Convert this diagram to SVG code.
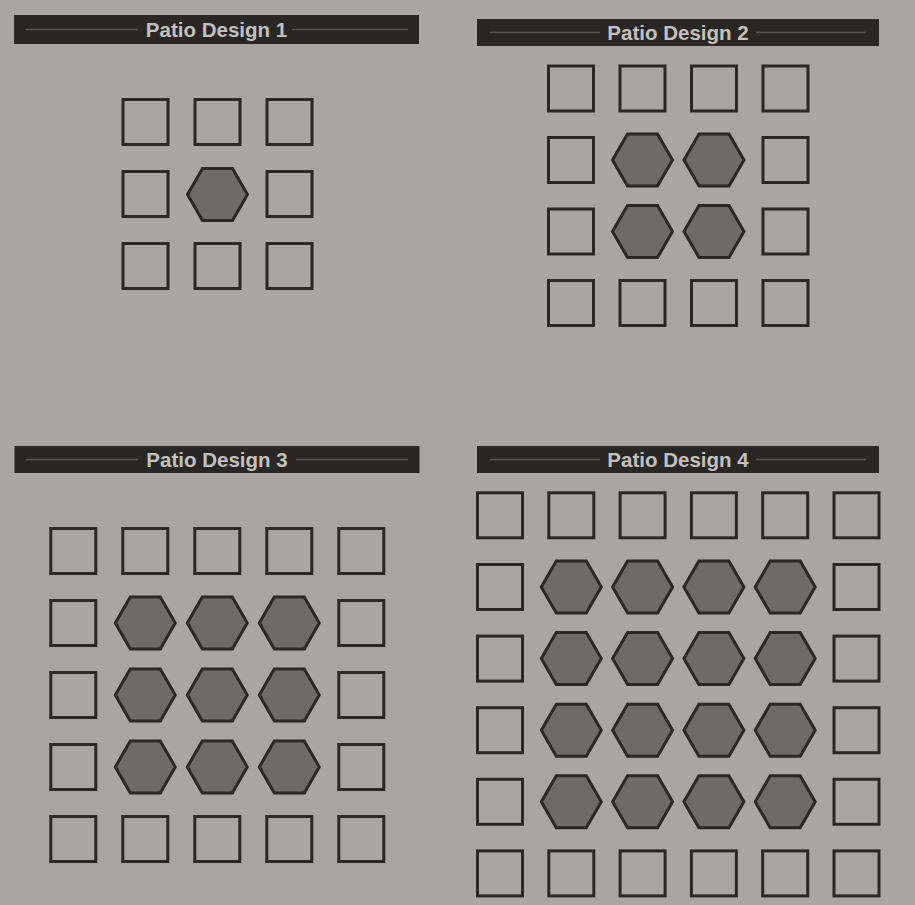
<svg xmlns="http://www.w3.org/2000/svg" xmlns:xlink="http://www.w3.org/1999/xlink" width="915" height="905" viewBox="0 0 915 905">
<style>
.bar{fill:#292725}
.rule{stroke:#57524e;stroke-width:1.5;fill:none}
.title{font-family:"Liberation Sans",Arial,sans-serif;font-weight:bold;font-size:20.5px;fill:#c4c0bc;text-anchor:middle}
.sq{fill:none;stroke:#2b2725;stroke-width:3}
.hx{fill:#6d6a67;stroke:#2b2725;stroke-width:3;stroke-linejoin:miter}
</style>
<defs>
<rect id="sq" class="sq" x="-22.5" y="-22.5" width="45" height="45"/>
<polygon id="hx" class="hx" points="-30,0 -15,-26 15,-26 30,0 15,26 -15,26"/>
</defs>
<rect width="915" height="905" fill="#a9a5a0"/>

<g id="design1">
<rect class="bar" x="14" y="15" width="405" height="29"/>
<line class="rule" x1="26" y1="29.5" x2="138" y2="29.5"/>
<line class="rule" x1="292" y1="29.5" x2="408" y2="29.5"/>
<text class="title" x="216.5" y="37">Patio Design 1</text>
<use href="#sq" transform="translate(145.5,122)"/><use href="#sq" transform="translate(217.5,122)"/><use href="#sq" transform="translate(289.5,122)"/>
<use href="#sq" transform="translate(145.5,194)"/><use href="#hx" transform="translate(217.5,194.5)"/><use href="#sq" transform="translate(289.5,194)"/>
<use href="#sq" transform="translate(145.5,266)"/><use href="#sq" transform="translate(217.5,266)"/><use href="#sq" transform="translate(289.5,266)"/>
</g>

<g id="design2">
<rect class="bar" x="477" y="19" width="402" height="27"/>
<line class="rule" x1="490" y1="32.5" x2="600" y2="32.5"/>
<line class="rule" x1="756" y1="32.5" x2="866" y2="32.5"/>
<text class="title" x="678" y="40">Patio Design 2</text>
<use href="#sq" transform="translate(571,88.5)"/><use href="#sq" transform="translate(642.5,88.5)"/><use href="#sq" transform="translate(714,88.5)"/><use href="#sq" transform="translate(785.5,88.5)"/>
<use href="#sq" transform="translate(571,160)"/><use href="#hx" transform="translate(642.5,160)"/><use href="#hx" transform="translate(714,160)"/><use href="#sq" transform="translate(785.5,160)"/>
<use href="#sq" transform="translate(571,231.5)"/><use href="#hx" transform="translate(642.5,231.5)"/><use href="#hx" transform="translate(714,231.5)"/><use href="#sq" transform="translate(785.5,231.5)"/>
<use href="#sq" transform="translate(571,303)"/><use href="#sq" transform="translate(642.5,303)"/><use href="#sq" transform="translate(714,303)"/><use href="#sq" transform="translate(785.5,303)"/>
</g>

<g id="design3">
<rect class="bar" x="14.5" y="446" width="405" height="27"/>
<line class="rule" x1="26" y1="459.5" x2="138" y2="459.5"/>
<line class="rule" x1="296" y1="459.5" x2="408" y2="459.5"/>
<text class="title" x="217" y="467">Patio Design 3</text>
<use href="#sq" transform="translate(73.3,551)"/><use href="#sq" transform="translate(145.3,551)"/><use href="#sq" transform="translate(217.3,551)"/><use href="#sq" transform="translate(289.3,551)"/><use href="#sq" transform="translate(361.3,551)"/>
<use href="#sq" transform="translate(73.3,623)"/><use href="#hx" transform="translate(145.3,623)"/><use href="#hx" transform="translate(217.3,623)"/><use href="#hx" transform="translate(289.3,623)"/><use href="#sq" transform="translate(361.3,623)"/>
<use href="#sq" transform="translate(73.3,695)"/><use href="#hx" transform="translate(145.3,695)"/><use href="#hx" transform="translate(217.3,695)"/><use href="#hx" transform="translate(289.3,695)"/><use href="#sq" transform="translate(361.3,695)"/>
<use href="#sq" transform="translate(73.3,767)"/><use href="#hx" transform="translate(145.3,767)"/><use href="#hx" transform="translate(217.3,767)"/><use href="#hx" transform="translate(289.3,767)"/><use href="#sq" transform="translate(361.3,767)"/>
<use href="#sq" transform="translate(73.3,839)"/><use href="#sq" transform="translate(145.3,839)"/><use href="#sq" transform="translate(217.3,839)"/><use href="#sq" transform="translate(289.3,839)"/><use href="#sq" transform="translate(361.3,839)"/>
</g>

<g id="design4">
<rect class="bar" x="477" y="446" width="402" height="27"/>
<line class="rule" x1="490" y1="459.5" x2="600" y2="459.5"/>
<line class="rule" x1="756" y1="459.5" x2="866" y2="459.5"/>
<text class="title" x="678" y="467">Patio Design 4</text>
<use href="#sq" transform="translate(500,515.3)"/><use href="#sq" transform="translate(571.3,515.3)"/><use href="#sq" transform="translate(642.6,515.3)"/><use href="#sq" transform="translate(713.9,515.3)"/><use href="#sq" transform="translate(785.2,515.3)"/><use href="#sq" transform="translate(856.5,515.3)"/>
<use href="#sq" transform="translate(500,587)"/><use href="#hx" transform="translate(571.3,587)"/><use href="#hx" transform="translate(642.6,587)"/><use href="#hx" transform="translate(713.9,587)"/><use href="#hx" transform="translate(785.2,587)"/><use href="#sq" transform="translate(856.5,587)"/>
<use href="#sq" transform="translate(500,658.6)"/><use href="#hx" transform="translate(571.3,658.6)"/><use href="#hx" transform="translate(642.6,658.6)"/><use href="#hx" transform="translate(713.9,658.6)"/><use href="#hx" transform="translate(785.2,658.6)"/><use href="#sq" transform="translate(856.5,658.6)"/>
<use href="#sq" transform="translate(500,730.2)"/><use href="#hx" transform="translate(571.3,730.2)"/><use href="#hx" transform="translate(642.6,730.2)"/><use href="#hx" transform="translate(713.9,730.2)"/><use href="#hx" transform="translate(785.2,730.2)"/><use href="#sq" transform="translate(856.5,730.2)"/>
<use href="#sq" transform="translate(500,801.8)"/><use href="#hx" transform="translate(571.3,801.8)"/><use href="#hx" transform="translate(642.6,801.8)"/><use href="#hx" transform="translate(713.9,801.8)"/><use href="#hx" transform="translate(785.2,801.8)"/><use href="#sq" transform="translate(856.5,801.8)"/>
<use href="#sq" transform="translate(500,873.4)"/><use href="#sq" transform="translate(571.3,873.4)"/><use href="#sq" transform="translate(642.6,873.4)"/><use href="#sq" transform="translate(713.9,873.4)"/><use href="#sq" transform="translate(785.2,873.4)"/><use href="#sq" transform="translate(856.5,873.4)"/>
</g>
</svg>
